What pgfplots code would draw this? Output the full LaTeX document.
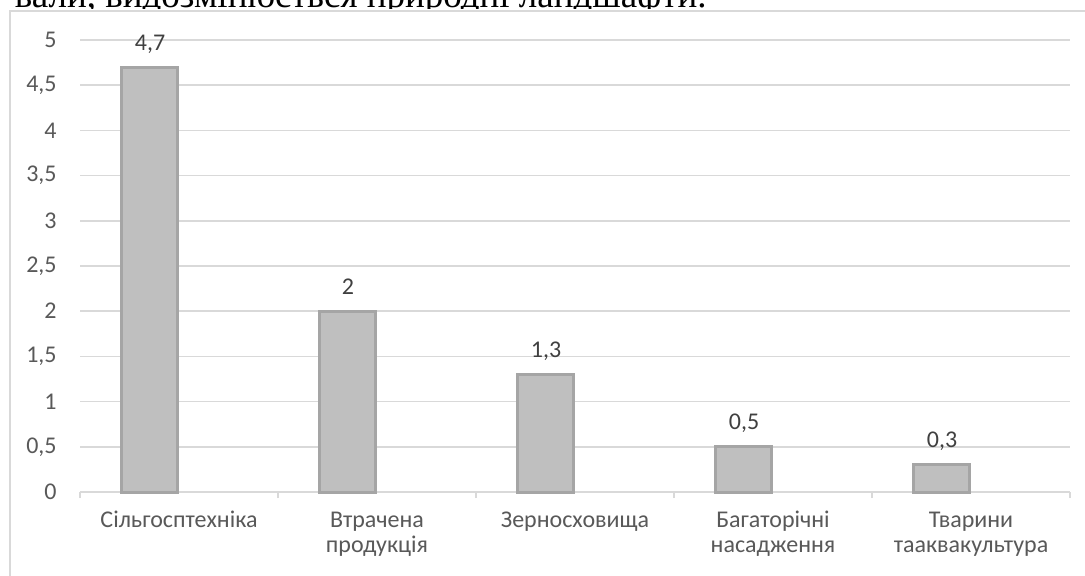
\documentclass[border=0pt]{standalone}
\usepackage{fontspec}
\setmainfont{Carlito}
\newfontfamily\serifcyr{Liberation Serif}
\usepackage{pgfplots}
\pgfplotsset{compat=1.18}
\definecolor{gridgray}{HTML}{D9D9D9}
\definecolor{labelgray}{HTML}{595959}
\definecolor{datagray}{HTML}{404040}
\definecolor{barfill}{HTML}{BFBFBF}
\definecolor{baredge}{HTML}{A5A5A5}

\begin{document}
\begin{tikzpicture}
\useasboundingbox (0,0) rectangle (542.5bp,288bp);
% line of body text above the chart, mostly hidden behind it
\node[anchor=base east, inner sep=0pt, font=\serifcyr\fontsize{18.5bp}{20bp}\selectfont]
  at (353.5bp,284bp) {вали, видозмінюється природні ландшафти.};
\fill[white] (5bp,0) rectangle (543bp,283.5bp);
\draw[gridgray, line width=0.75bp] (5bp,-1bp) -- (5bp,282.5bp) -- (544bp,282.5bp);

\begin{axis}[
    at={(40bp,42bp)}, anchor=south west,
    scale only axis,
    width=495bp, height=226bp,
    ybar, bar width=28bp, bar shift=-14.5bp,
    xmin=-0.5, xmax=4.5,
    ymin=0, ymax=5,
    ytick={0,0.5,...,5},
    yticklabels={0,{0,5},1,{1,5},2,{2,5},3,{3,5},4,{4,5},5},
    xtick={0,...,4},
    xticklabels={\strut Сільгосптехніка, {\strut Втрачена\\продукція}, \strut Зерносховища,
                 {\strut Багаторічні\\насадження}, {\strut Тварини\\тааквакультура}},
    minor xtick={-0.5,0.5,...,4.5},
    axis lines*=left,
    y axis line style={draw=none},
    x axis line style={gridgray, line width=0.75bp},
    tick align=outside,
    major tick length=0pt,
    minor tick length=3bp,
    minor tick style={gridgray, line width=0.75bp},
    ytick style={draw=none},
    ymajorgrids=true,
    grid style={gridgray, line width=0.75bp},
    tick label style={font=\fontsize{12bp}{12.5bp}\selectfont, color=labelgray},
    yticklabel style={inner sep=0pt, xshift=-11.5bp},
    xticklabel style={align=center, inner sep=0pt, yshift=-9bp},
    /pgf/number format/use comma,
    /pgf/number format/assume math mode=true,
    nodes near coords,
    nodes near coords style={font=\fontsize{12bp}{12.5bp}\selectfont, color=datagray,
                             anchor=base, inner sep=0pt, yshift=8.5bp},
    clip=false,
]
\addplot[fill=barfill, draw=baredge, line width=1.5bp]
    coordinates {(0,4.7)(1,2)(2,1.3)(3,0.5)(4,0.3)};
\end{axis}
\end{tikzpicture}
\end{document}
